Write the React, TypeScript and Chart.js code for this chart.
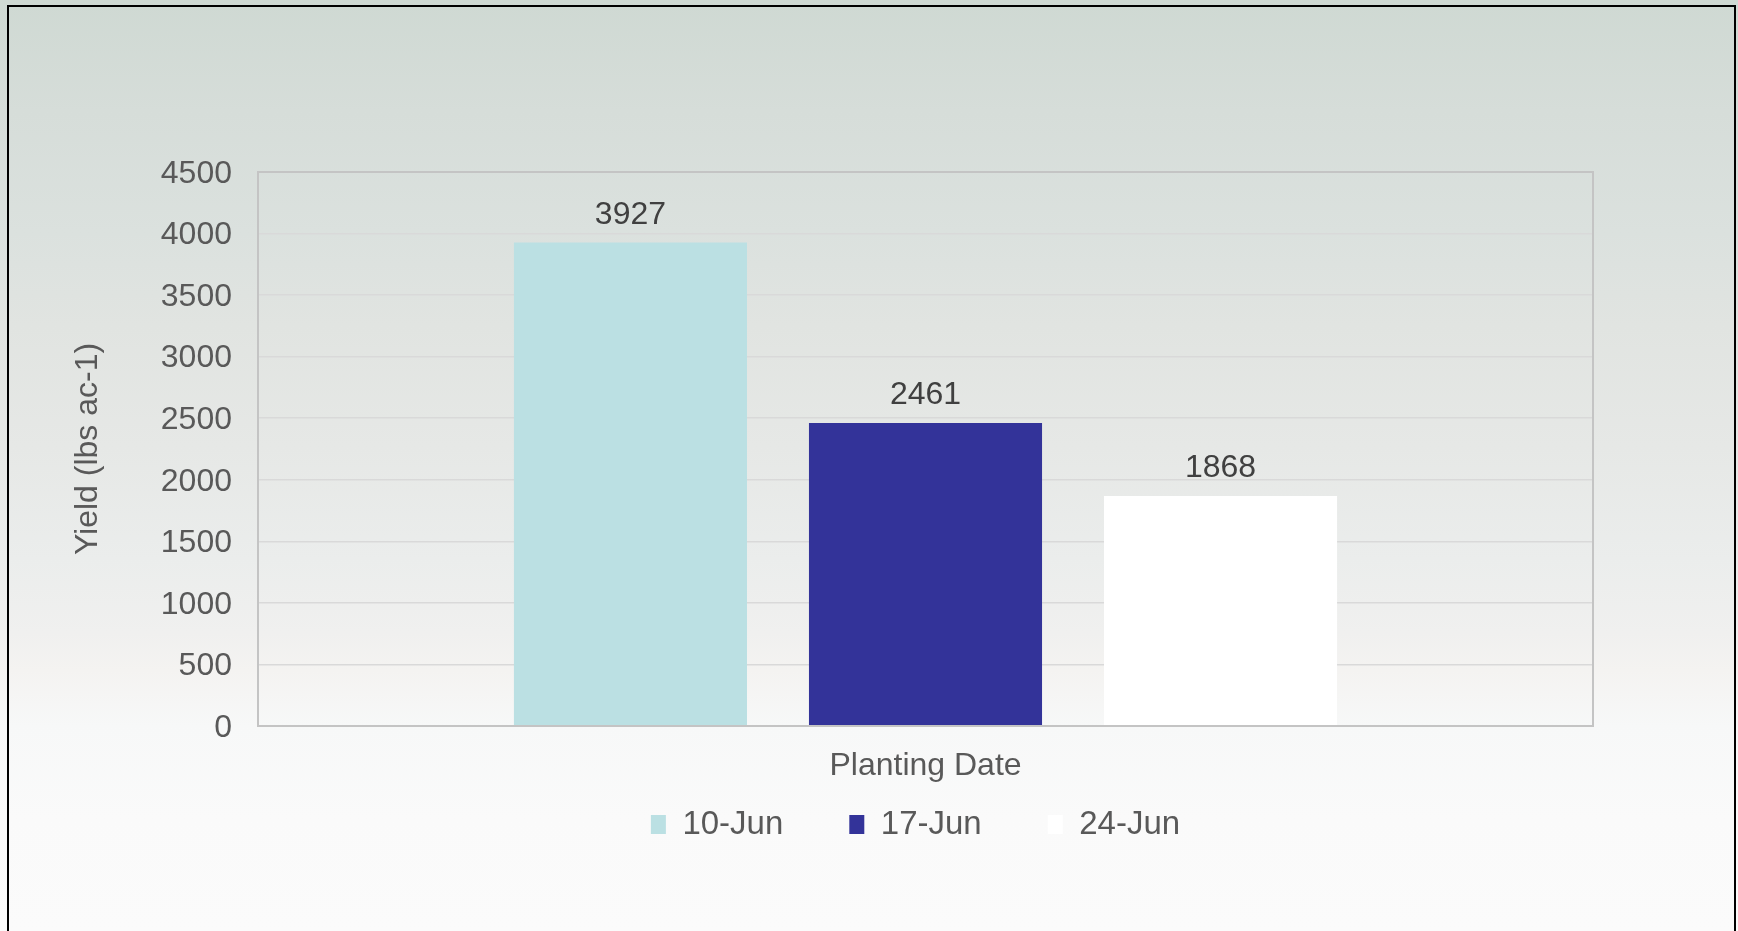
import React, { useEffect, useRef } from "react";
import { Chart, registerables } from "chart.js";

Chart.register(...registerables);

const categories = ["Planting Date"];
const seriesNames = ["10-Jun", "17-Jun", "24-Jun"];
const series10Jun = [3927];
const series17Jun = [2461];
const series24Jun = [1868];
const seriesColors = ["#bbe0e3", "#333399", "#ffffff"];
const yMin = 0;
const yMax = 4500;
const yStep = 500;
const yAxisTitle = "Yield (lbs ac-1)";
const xAxisTitle = "Planting Date";

const FONT = "'Liberation Sans', Arial, sans-serif";

export default function App() {
  const ref = useRef<HTMLCanvasElement>(null);

  useEffect(() => {
    const canvas = ref.current!;
    const seriesValues = [series10Jun, series17Jun, series24Jun];

    const plotBorder = {
      id: "plotBorder",
      afterDatasetsDraw(chart: any) {
        const { ctx, chartArea } = chart;
        ctx.save();
        ctx.strokeStyle = "#c4c4c4";
        ctx.lineWidth = 2;
        ctx.strokeRect(chartArea.left, chartArea.top, chartArea.right - chartArea.left, chartArea.bottom - chartArea.top);
        ctx.restore();
      },
    };

    const dataLabels = {
      id: "dataLabels",
      afterDatasetsDraw(chart: any) {
        const ctx = chart.ctx;
        ctx.save();
        ctx.font = `32px ${FONT}`;
        ctx.fillStyle = "#404040";
        ctx.textAlign = "center";
        ctx.textBaseline = "alphabetic";
        chart.data.datasets.forEach((ds: any, i: number) => {
          const meta = chart.getDatasetMeta(i);
          meta.data.forEach((el: any, j: number) => {
            ctx.fillText(String(ds.data[j]), el.x, el.y - 19);
          });
        });
        ctx.restore();
      },
    };

    const chart = new Chart(canvas, {
      type: "bar",
      data: {
        labels: categories,
        datasets: seriesNames.map((name, i) => ({
          label: name,
          data: seriesValues[i],
          backgroundColor: seriesColors[i],
          borderColor: seriesColors[i],
          borderWidth: 0,
          categoryPercentage: 0.663,
          barPercentage: 0.79,
          yAxisID: "y",
        })),
      },
      options: {
        responsive: false,
        animation: false,
        devicePixelRatio: 1,
        layout: { padding: { left: 93, right: 0, top: 172, bottom: 80 } },
        plugins: {
          tooltip: { enabled: false },
          title: { display: false },
          legend: {
            display: true,
            position: "bottom",
            labels: {
              boxWidth: 15,
              boxHeight: 19,
              padding: 66,
              color: "#595959",
              font: { size: 33, family: FONT },
            },
          },
        },
        scales: {
          x: {
            type: "category",
            offset: true,
            grid: { display: false, drawTicks: false },
            border: { display: false },
            ticks: { display: false },
            title: {
              display: true,
              text: xAxisTitle,
              color: "#595959",
              font: { size: 32, family: FONT },
              padding: { top: 0, bottom: -43 },
            },
            afterFit(s: any) {
              s.height = 16;
            },
          },
          y: {
            type: "linear",
            position: "left",
            min: yMin,
            max: yMax,
            ticks: {
              stepSize: yStep,
              color: "#595959",
              font: { size: 32, family: FONT },
              padding: 26,
              labelOffset: 2,
              callback: (v: any) => String(v),
            },
            grid: { color: "#d9d9d9", lineWidth: 1.5, drawTicks: false },
            border: { display: false },
            title: {
              display: true,
              text: yAxisTitle,
              color: "#595959",
              font: { size: 32, family: FONT },
              padding: { top: -24, bottom: 0 },
            },
            afterFit(s: any) {
              s.width = 165;
            },
          },
          y2: {
            type: "linear",
            position: "right",
            display: true,
            grid: { display: false, drawTicks: false },
            border: { display: false },
            ticks: { display: false },
            afterFit(s: any) {
              s.width = 145;
            },
          },
        },
      },
      plugins: [plotBorder, dataLabels],
    } as any);

    return () => chart.destroy();
  }, []);

  return (
    <div
      style={{
        position: "fixed",
        left: 0,
        top: 0,
        width: 1738,
        height: 931,
        overflow: "hidden",
        background:
          "linear-gradient(to bottom, #cfd9d3 0%, #d6ddd9 12%, #dbe1de 25%, #e1e4e1 35%, #e6e8e6 48%, #ebedec 60%, #f0f0ef 68%, #f4f3f1 72%, #f7f8f8 78%, #fafafa 88%, #fbfbfb 100%)",
      }}
    >
      <canvas
        ref={ref}
        width={1738}
        height={931}
        style={{ position: "absolute", left: 0, top: 0, width: 1738, height: 931 }}
      />
      <div
        style={{
          position: "absolute",
          left: 7,
          top: 5,
          width: 1729,
          height: 980,
          border: "2px solid #000",
          boxSizing: "border-box",
          pointerEvents: "none",
        }}
      />
    </div>
  );
}
